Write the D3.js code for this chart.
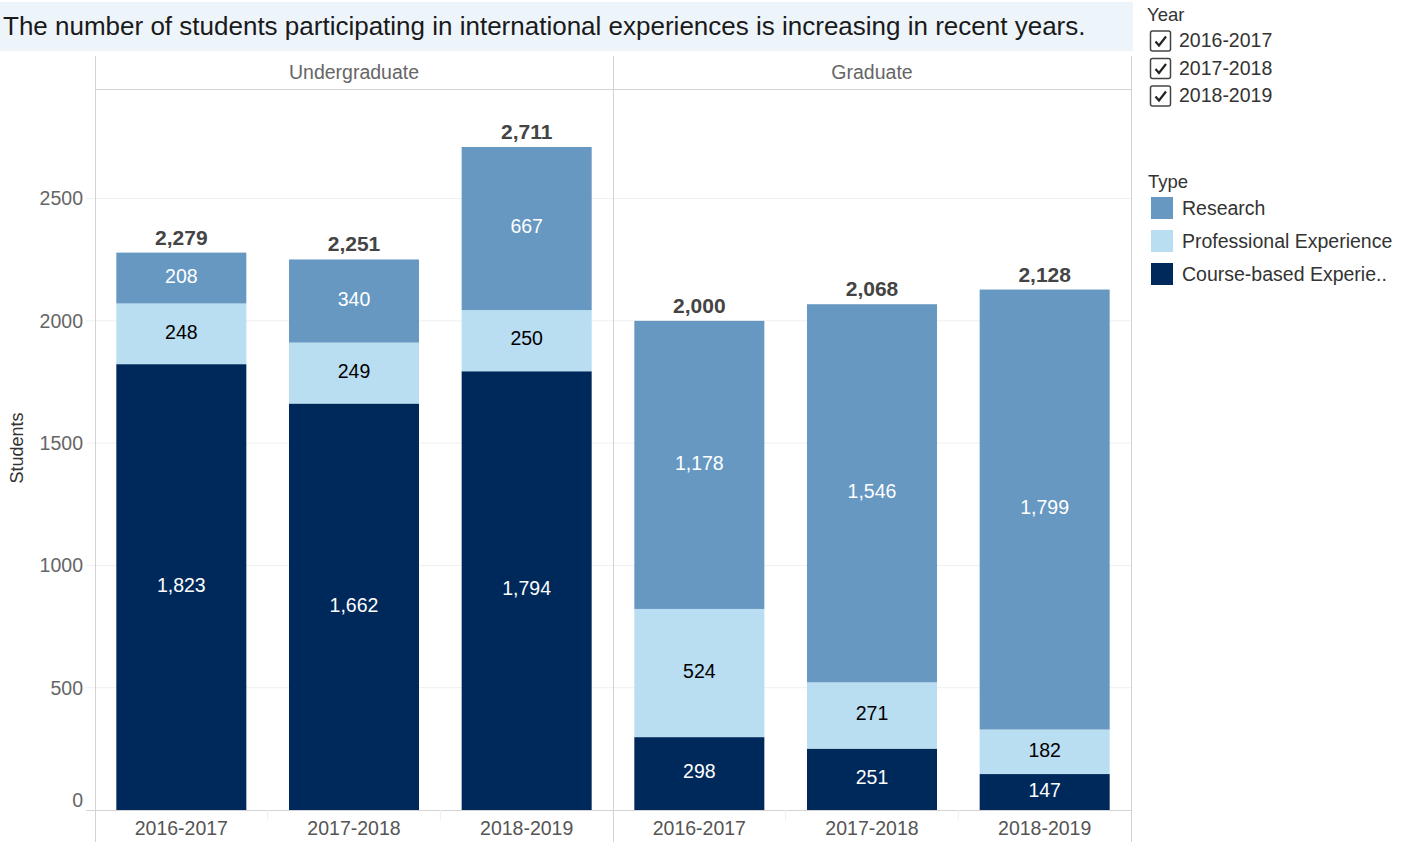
<!DOCTYPE html>
<html><head><meta charset="utf-8">
<script src="https://cdn.jsdelivr.net/npm/d3@7/dist/d3.min.js"></script>
<style>body{margin:0;background:#fff;font-family:"Liberation Sans",Arial,sans-serif;}</style>
</head><body><svg id="c" width="1411" height="842"></svg>
<script>
const levels = ["Undergraduate", "Graduate"];
const years = ["2016-2017", "2017-2018", "2018-2019"];
const types = ["Research", "Professional Experience", "Course-based Experie.."];
const typeKeys = ["research", "professional", "course"];
const courseUG = [1823, 1662, 1794];
const professionalUG = [248, 249, 250];
const researchUG = [208, 340, 667];
const courseGR = [298, 251, 147];
const professionalGR = [524, 271, 182];
const researchGR = [1178, 1546, 1799];
const yTicks = [0, 500, 1000, 1500, 2000, 2500];
const colors = {research: "#6798c2", professional: "#b9ddf1", course: "#00295b"};
const labelColors = {research: "#ffffff", professional: "#000000", course: "#ffffff"};
const title = "The number of students participating in international experiences is increasing in recent years.";

const rows = [];
levels.forEach((lv, li) => {
  const c = li === 0 ? courseUG : courseGR;
  const p = li === 0 ? professionalUG : professionalGR;
  const r = li === 0 ? researchUG : researchGR;
  years.forEach((yr, i) => rows.push({level: lv, year: yr, course: c[i], professional: p[i], research: r[i]}));
});

const svg = d3.select("#c");
const F = '"Liberation Sans", Arial, sans-serif';
const FS = 19.5;
const fmt = d3.format(",");

// title
svg.append("rect").attr("x", 0).attr("y", 2).attr("width", 1133).attr("height", 49).attr("fill", "#eef5fa");
svg.append("text").attr("x", 3).attr("y", 35).attr("font-family", F).attr("font-size", 26)
  .attr("fill", "#1a1a1a").text(title);

const plotL = 95, plotR = 1131, plotT = 89, base = 810;
const panel = d3.scaleBand().domain(levels).range([plotL, plotR]);
const xb = d3.scaleBand().domain(years).range([0, panel.bandwidth()]).paddingInner(0.247).paddingOuter(0.1235);
const y = d3.scaleLinear().domain([0, 2948]).range([base, plotT]);

// gridlines
svg.append("g").selectAll("line").data(yTicks.slice(1)).join("line")
  .attr("x1", 86).attr("x2", plotR).attr("y1", d => y(d)).attr("y2", d => y(d))
  .attr("stroke", "#efefef").attr("stroke-width", 1);

// y axis labels
svg.append("g").selectAll("text").data(yTicks).join("text")
  .attr("x", 83).attr("y", d => Math.min(y(d), 800)).attr("dy", "0.35em")
  .attr("text-anchor", "end").attr("font-family", F).attr("font-size", FS).attr("fill", "#666")
  .text(d => d);
svg.append("text").attr("transform", "translate(23,448) rotate(-90)").attr("text-anchor", "middle")
  .attr("font-family", F).attr("font-size", 18).attr("fill", "#333").text("Students");

// stacks
const stack = d3.stack().keys(["course", "professional", "research"]);
const series = stack(rows);
const gBars = svg.append("g");
series.forEach(s => {
  gBars.selectAll(null).data(s).join("rect")
    .attr("x", d => panel(d.data.level) + xb(d.data.year))
    .attr("width", xb.bandwidth())
    .attr("y", d => y(d[1]))
    .attr("height", d => y(d[0]) - y(d[1]))
    .attr("fill", colors[s.key]);
  gBars.selectAll(null).data(s).join("text")
    .attr("x", d => panel(d.data.level) + xb(d.data.year) + xb.bandwidth() / 2)
    .attr("y", d => (y(d[0]) + y(d[1])) / 2 - 2).attr("dy", "0.35em")
    .attr("text-anchor", "middle").attr("font-family", F).attr("font-size", FS)
    .attr("fill", labelColors[s.key]).text(d => fmt(d.data[s.key]));
});
// totals
svg.append("g").selectAll("text").data(rows).join("text")
  .attr("x", d => panel(d.level) + xb(d.year) + xb.bandwidth() / 2)
  .attr("y", d => y(d.course + d.professional + d.research) - 8)
  .attr("text-anchor", "middle").attr("font-family", F).attr("font-size", 21).attr("font-weight", "bold")
  .attr("fill", "#444").text(d => fmt(d.course + d.professional + d.research));

// frame lines
const lineC = "#d3d3d3";
svg.append("line").attr("x1", plotL).attr("x2", plotR).attr("y1", plotT + 0.5).attr("y2", plotT + 0.5).attr("stroke", lineC);
svg.append("line").attr("x1", 86).attr("x2", plotR).attr("y1", base + 0.5).attr("y2", base + 0.5).attr("stroke", lineC);
[plotL, panel("Graduate"), plotR].forEach(x => {
  svg.append("line").attr("x1", x + 0.5).attr("x2", x + 0.5).attr("y1", 56).attr("y2", 842).attr("stroke", lineC);
});
// x tick separators, headers, x labels
levels.forEach(lv => {
  [1, 2].forEach(i => {
    const x = panel(lv) + i * panel.bandwidth() / 3;
    svg.append("line").attr("x1", x).attr("x2", x).attr("y1", base).attr("y2", base + 10).attr("stroke", "#eeeeee");
  });
  svg.append("text").attr("x", panel(lv) + panel.bandwidth() / 2).attr("y", 72).attr("dy", "0.35em")
    .attr("text-anchor", "middle").attr("font-family", F).attr("font-size", FS).attr("fill", "#666").text(lv);
  years.forEach(yr => {
    svg.append("text").attr("x", panel(lv) + xb(yr) + xb.bandwidth() / 2).attr("y", 828).attr("dy", "0.35em")
      .attr("text-anchor", "middle").attr("font-family", F).attr("font-size", FS).attr("fill", "#555").text(yr);
  });
});

// Year legend
const lg = svg.append("g");
lg.append("text").attr("x", 1147).attr("y", 15).attr("dy", "0.35em").attr("font-family", F).attr("font-size", 18.5).attr("fill", "#333").text("Year");
years.forEach((yr, i) => {
  const yy = 40.5 + i * 27.5;
  lg.append("rect").attr("x", 1150.5).attr("y", yy - 9.5).attr("width", 20).attr("height", 20).attr("rx", 2)
    .attr("fill", "#fff").attr("stroke", "#444").attr("stroke-width", 1.5);
  lg.append("path").attr("d", `M${1155.5},${yy + 1} L${1159},${yy + 5} L${1166},${yy - 4}`)
    .attr("fill", "none").attr("stroke", "#222").attr("stroke-width", 2.2);
  lg.append("text").attr("x", 1179).attr("y", yy).attr("dy", "0.35em").attr("font-family", F).attr("font-size", FS).attr("fill", "#333").text(yr);
});
// Type legend
lg.append("text").attr("x", 1148).attr("y", 182).attr("dy", "0.35em").attr("font-family", F).attr("font-size", 18.5).attr("fill", "#333").text("Type");
types.forEach((t, i) => {
  const yy = 208 + i * 33;
  lg.append("rect").attr("x", 1151).attr("y", yy - 11).attr("width", 22).attr("height", 22).attr("fill", colors[typeKeys[i]]);
  lg.append("text").attr("x", 1182).attr("y", yy).attr("dy", "0.35em").attr("font-family", F).attr("font-size", FS).attr("fill", "#333").text(t);
});
</script></body></html>
